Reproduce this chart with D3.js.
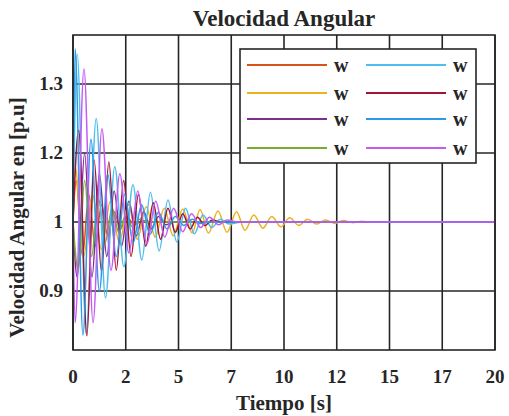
<!DOCTYPE html>
<html>
<head>
<meta charset="utf-8">
<title>Velocidad Angular</title>
<script src="https://d3js.org/d3.v7.min.js"></script>
<style>
  body { margin: 0; background: #fff; }
  svg text { font-family: 'Liberation Serif', 'Times New Roman', Times, 'DejaVu Serif', serif; font-weight: 700; fill: #262626; }
</style>
</head>
<body>
<script>
// tick positions and their printed labels (as in the original figure)
var xTicks = [0, 2.5, 5, 7.5, 10, 12.5, 15, 17.5, 20];
var xTickLabels = ["0", "2", "5", "7", "10", "12", "15", "17", "20"];
var yTicks = [0.9, 1.0, 1.1, 1.2];
var yTickLabels = ["0.9", "1", "1.2", "1.3"];

var legendLabels = ["w", "w", "w", "w", "w", "w", "w", "w"];
var colors = ["#D95319", "#EDB120", "#7E2F8E", "#77AC30", "#4DBEEE", "#A2142F", "#2A9BEA", "#C55AF5"];

// extrema of each trace: [time s, speed p.u.]
var w1 = [[0,1],[0.15,1.06],[0.45,0.95],[0.75,1.04],[1.05,0.965],[1.35,1.025],[1.65,0.98],[1.95,1.015],[2.25,0.99],[2.55,1.008],[2.9,0.996],[3.3,1.002],[3.7,1],[20,1]];
var w2 = [[0,1],[0.1,1.08],[0.5,0.95],[0.92,1.04],[1.35,0.96],[1.77,1.03],[2.2,0.97],[2.62,1.025],[3.05,0.975],[3.47,1.022],[3.9,0.978],[4.32,1.02],[4.75,0.98],[5.2,1.019],[5.65,0.984],[6.02,1.018],[6.42,0.984],[6.87,1.016],[7.3,0.985],[7.75,1.015],[8.15,0.988],[8.57,1.01],[9.0,0.991],[9.42,1.008],[9.85,0.993],[10.27,1.006],[10.7,0.995],[11.12,1.004],[11.55,0.997],[11.97,1.003],[12.4,0.998],[12.82,1.002],[13.25,0.999],[13.67,1.001],[14.2,1],[20,1]];
var w3 = [[0,1],[0.2,0.92],[0.55,1.1],[0.9,0.92],[1.25,1.07],[1.6,0.95],[1.95,1.045],[2.3,0.965],[2.65,1.03],[3.0,0.98],[3.35,1.015],[3.7,0.99],[4.05,1.008],[4.4,0.996],[4.8,1],[20,1]];
var w4 = [[0,1],[0.25,0.93],[0.55,1.06],[0.88,0.95],[1.2,1.035],[1.52,0.97],[1.85,1.02],[2.17,0.985],[2.5,1.01],[2.82,0.993],[3.15,1.004],[3.5,1],[20,1]];
var w5 = [[0,1],[0.2,1.243],[0.62,0.838],[1.1,1.15],[1.54,0.89],[1.98,1.08],[2.41,0.935],[2.84,1.054],[3.26,0.945],[3.67,1.043],[4.08,0.958],[4.5,1.032],[4.92,0.971],[5.33,1.02],[5.75,0.983],[6.16,1.01],[6.58,0.992],[6.99,1.004],[7.4,0.997],[8,1],[20,1]];
var w6 = [[0,1],[0.27,1.133],[0.66,0.835],[1.0,1.09],[1.35,0.928],[1.7,1.087],[2.05,0.93],[2.4,1.06],[2.75,0.95],[3.1,1.04],[3.45,0.965],[3.8,1.028],[4.15,0.975],[4.5,1.02],[4.85,0.985],[5.2,1.012],[5.55,0.99],[5.9,1.007],[6.25,0.995],[6.6,1.003],[7.0,1],[20,1]];
var w7 = [[0,1],[0.1,1.251],[0.47,0.836],[0.85,1.12],[1.25,0.9],[1.65,1.07],[2.05,0.95],[2.45,1.04],[2.85,0.97],[3.25,1.025],[3.65,0.982],[4.05,1.014],[4.45,0.99],[4.85,1.008],[5.25,0.995],[5.65,1.004],[6.05,0.998],[6.5,1],[20,1]];
var w8 = [[0,1],[0.1,0.854],[0.52,1.222],[0.95,0.854],[1.37,1.135],[1.8,0.93],[2.22,1.07],[2.65,0.955],[3.07,1.045],[3.5,0.968],[3.92,1.03],[4.35,0.978],[4.77,1.02],[5.2,0.986],[5.62,1.012],[6.05,0.992],[6.47,1.007],[6.9,0.996],[7.3,1.003],[7.8,1],[20,1]];
var series = [w1, w2, w3, w4, w5, w6, w7, w8];

var width = 509, height = 416;
var margin = {top: 35, right: 14, bottom: 66, left: 73};

var svg = d3.select("body").append("svg")
    .attr("width", width)
    .attr("height", height)
    .attr("font-family", "'Liberation Serif', 'Times New Roman', serif");

var x = d3.scaleLinear().domain([0, 20]).range([margin.left, width - margin.right]);
var y = d3.scaleLinear().domain([0.8145, 1.271]).range([height - margin.bottom, margin.top]);

var x0 = x.range()[0], x1 = x.range()[1];
var y0 = y.range()[1], y1 = y.range()[0];

// grid
svg.append("g").selectAll("line").data(xTicks).enter().append("line")
    .attr("x1", function(d) { return x(d); }).attr("x2", function(d) { return x(d); })
    .attr("y1", y0).attr("y2", y1)
    .attr("stroke", "#262626").attr("stroke-width", 1.6);
svg.append("g").selectAll("line").data(yTicks).enter().append("line")
    .attr("x1", x0).attr("x2", x1)
    .attr("y1", function(d) { return y(d); }).attr("y2", function(d) { return y(d); })
    .attr("stroke", "#262626").attr("stroke-width", 1.6);

// traces
var line = d3.line()
    .x(function(d) { return x(d[0]); })
    .y(function(d) { return y(d[1]); })
    .curve(d3.curveMonotoneX);

var plot = svg.append("g");
series.forEach(function(s, i) {
  plot.append("path")
      .datum(s)
      .attr("d", line)
      .attr("fill", "none")
      .attr("stroke", colors[i])
      .attr("stroke-width", 1.5);
});

// box
svg.append("rect")
    .attr("x", x0).attr("y", y0)
    .attr("width", x1 - x0).attr("height", y1 - y0)
    .attr("fill", "none").attr("stroke", "#262626").attr("stroke-width", 1.6);

// tick labels
svg.append("g").selectAll("text").data(xTicks).enter().append("text")
    .attr("x", function(d) { return x(d); })
    .attr("y", y1 + 33)
    .attr("text-anchor", "middle")
    .attr("font-size", 19)
    .text(function(d, i) { return xTickLabels[i]; });

svg.append("g").selectAll("text").data(yTicks).enter().append("text")
    .attr("x", x0 - 10)
    .attr("y", function(d) { return y(d) + 6; })
    .attr("text-anchor", "end")
    .attr("font-size", 19)
    .text(function(d, i) { return yTickLabels[i]; });

// titles
svg.append("text")
    .attr("x", (x0 + x1) / 2)
    .attr("y", 26)
    .attr("text-anchor", "middle")
    .attr("font-size", 23)
    .text("Velocidad Angular");

svg.append("text")
    .attr("x", (x0 + x1) / 2)
    .attr("y", 410)
    .attr("text-anchor", "middle")
    .attr("font-size", 21)
    .text("Tiempo [s]");

svg.append("text")
    .attr("transform", "translate(24," + ((y0 + y1) / 2 + 25) + ") rotate(-90)")
    .attr("text-anchor", "middle")
    .attr("font-size", 21)
    .text("Velocidad Angular en [p.u]");

// legend
var lg = svg.append("g").attr("transform", "translate(240,49)");
lg.append("rect")
    .attr("width", 236).attr("height", 114)
    .attr("fill", "#fff").attr("stroke", "#262626").attr("stroke-width", 1.6);

var rowY = [16, 44, 70, 99];
legendLabels.forEach(function(lab, i) {
  var col = Math.floor(i / 4), row = i % 4;
  var gx = col * 119;
  lg.append("line")
      .attr("x1", gx + 7).attr("x2", gx + 87)
      .attr("y1", rowY[row]).attr("y2", rowY[row])
      .attr("stroke", colors[i]).attr("stroke-width", 2);
  lg.append("text")
      .attr("x", gx + 94)
      .attr("y", rowY[row] + 7)
      .attr("font-size", 20)
      .text(lab);
});
</script>
</body>
</html>
